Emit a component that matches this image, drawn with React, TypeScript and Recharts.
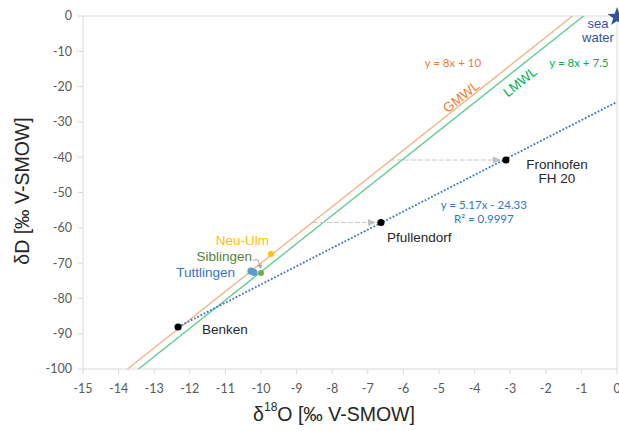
import { ComposedChart, Scatter, XAxis, YAxis, ReferenceLine, Label } from "recharts"

// axis ticks
const xTicks = [-15, -14, -13, -12, -11, -10, -9, -8, -7, -6, -5, -4, -3, -2, -1, 0]
const yTicks = [0, -10, -20, -30, -40, -50, -60, -70, -80, -90, -100]

// water lines (end points)
const gmwlX = [-13.75, -1.25]
const gmwlY = [-100, 0]
const lmwlX = [-13.44, -0.94]
const lmwlY = [-100, 0]
const fitX = [-12.33, 0]
const fitY = [-88.1, -24.33]

// deep groundwater samples
const sampleNames = ["Benken", "Pfullendorf", "Fronhofen FH 20"]
const sampleX = [-12.33, -6.63, -3.12]
const sampleY = [-88.1, -58.5, -40.8]

// shallow groundwater samples
const neuUlmX = [-9.72]
const neuUlmY = [-67.4]
const siblingenX = [-10.0]
const siblingenY = [-72.8]
const tuttlingenX = [-10.28, -10.2]
const tuttlingenY = [-72.3, -72.6]

// shift arrows: start on GMWL, end at sample
const arrowFromX = [-8.54, -6.38]
const arrowToX = [-6.63, -3.12]
const arrowY = [-58.5, -40.8]

// free text annotations
const noteText = ["y = 8x + 10", "y = 8x + 7.5", "GMWL", "LMWL", "y = 5.17x - 24.33", "R² = 0.9997"]
const noteX = [-4.61, -1.07, -4.38, -2.72, -3.74, -3.74]
const noteY = [-13.3, -13.3, -22.9, -18.7, -53.3, -57.5]

const FONT = "'Liberation Sans', Arial, sans-serif"
const CAL = "Lato, 'Open Sans', sans-serif"

const zip = (xs: number[], ys: number[]) => xs.map((x, i) => ({ x, y: ys[i] }))

const samples = sampleX.map((x, i) => ({ x, y: sampleY[i], name: sampleNames[i] }))
const notes = noteText.map((text, i) => ({ x: noteX[i], y: noteY[i], text }))
const arrows = arrowFromX.map((fx, i) => [
  { x: fx, y: arrowY[i], tip: false },
  { x: arrowToX[i], y: arrowY[i], tip: true },
])

const sampleStyle: Record<string, { dx: number; dy: number; anchor: "start" | "middle" | "end" }> = {
  Benken: { dx: 24, dy: 2, anchor: "start" },
  Pfullendorf: { dx: 6, dy: 14, anchor: "start" },
  "Fronhofen FH 20": { dx: 51, dy: 4, anchor: "middle" },
}

const noteStyle: Record<string, { color: string; size: number; font: string; angle?: number }> = {
  "y = 8x + 10": { color: "#ED7D31", size: 11.5, font: CAL },
  "y = 8x + 7.5": { color: "#00B050", size: 11.5, font: CAL },
  GMWL: { color: "#ED7D31", size: 13.5, font: FONT, angle: -38.4 },
  LMWL: { color: "#00B050", size: 13.5, font: FONT, angle: -38.4 },
  "y = 5.17x - 24.33": { color: "#2E78C8", size: 11.5, font: CAL },
  "R² = 0.9997": { color: "#2E78C8", size: 11.5, font: CAL },
}

const noShape = () => <g />

function SampleShape(p: any) {
  const st = sampleStyle[p.payload.name]
  const words = p.payload.name === "Fronhofen FH 20" ? ["Fronhofen", "FH 20"] : [p.payload.name]
  const tx = p.cx + st.dx
  return (
    <g>
      <circle cx={p.cx} cy={p.cy} r={3.6} fill="#000" />
      <text x={tx} y={p.cy + st.dy} textAnchor={st.anchor} fontSize={13.5} fontFamily={FONT} fill="#262626" dominantBaseline="central">
        {words.map((w, i) => (
          <tspan key={w} x={tx} dy={i === 0 ? 0 : 14}>
            {w}
          </tspan>
        ))}
      </text>
    </g>
  )
}

function NoteShape(p: any) {
  const st = noteStyle[p.payload.text]
  return (
    <text
      x={p.cx}
      y={p.cy}
      textAnchor="middle"
      dominantBaseline="central"
      fontSize={st.size}
      fontFamily={st.font}
      fill={st.color}
      transform={st.angle ? `rotate(${st.angle} ${p.cx} ${p.cy})` : undefined}
    >
      {p.payload.text}
    </text>
  )
}

function ArrowShape(p: any) {
  if (!p.payload.tip) return <g />
  const tipX = p.cx - 5
  return <path d={`M${tipX},${p.cy} L${tipX - 8},${p.cy - 3.5} L${tipX - 8},${p.cy + 3.5} Z`} fill="#BFBFBF" />
}

function NeuUlmShape(p: any) {
  return (
    <g>
      <circle cx={p.cx} cy={p.cy} r={3} fill="#FFC000" />
      <text x={p.cx - 2} y={p.cy - 13} textAnchor="end" dominantBaseline="central" fontSize={13.5} fontFamily={FONT} fill="#FFC000">
        Neu-Ulm
      </text>
    </g>
  )
}

function SiblingenShape(p: any) {
  return (
    <g>
      <path d={`M${p.cx - 8},${p.cy - 13} L${p.cx - 3},${p.cy - 13} L${p.cx - 1},${p.cy - 7}`} fill="none" stroke="#A6A6A6" strokeWidth={1} />
      <path d={`M${p.cx - 3.5},${p.cy - 8} L${p.cx + 1.5},${p.cy - 8.5} L${p.cx - 0.5},${p.cy - 4}Z`} fill="#A6A6A6" />
      <circle cx={p.cx} cy={p.cy} r={3} fill="#70AD47" />
      <text x={p.cx - 9} y={p.cy - 16} textAnchor="end" dominantBaseline="central" fontSize={13.5} fontFamily={FONT} fill="#548235">
        Siblingen
      </text>
    </g>
  )
}

function TuttlingenShape(p: any) {
  return (
    <g>
      <circle cx={p.cx} cy={p.cy} r={3.6} fill="#5B9BD5" />
      {p.index === 0 ? (
        <text x={p.cx - 16} y={p.cy + 1} textAnchor="end" dominantBaseline="central" fontSize={13.5} fontFamily={FONT} fill="#2E78C8">
          Tuttlingen
        </text>
      ) : null}
    </g>
  )
}

function SeaShape(p: any) {
  const r1 = 10
  const r2 = 4
  const pts = Array.from({ length: 10 }, (_, i) => {
    const a = -Math.PI / 2 + (i * Math.PI) / 5
    const r = i % 2 === 0 ? r1 : r2
    return `${p.cx + r * Math.cos(a)},${p.cy + 1 + r * Math.sin(a)}`
  }).join(" ")
  return (
    <g>
      <polygon points={pts} fill="#2F5597" />
      <text x={p.cx - 19} y={p.cy + 7.5} textAnchor="middle" dominantBaseline="central" fontSize={13} fontFamily={FONT} fill="#2F5597">
        sea
      </text>
      <text x={p.cx - 19} y={p.cy + 21} textAnchor="middle" dominantBaseline="central" fontSize={13} fontFamily={FONT} fill="#2F5597">
        water
      </text>
    </g>
  )
}

const XTitle = () => (
  <text x={334} y={414} textAnchor="middle" dominantBaseline="central" fontSize={19.5} fontFamily={FONT} fill="#262626">
    δ<tspan fontSize={12} dy={-7}>18</tspan>
    <tspan dy={7}>O [‰ V-SMOW]</tspan>
  </text>
)

const YTitle = () => (
  <text x={22} y={191} textAnchor="middle" dominantBaseline="central" fontSize={19.5} fontFamily={FONT} fill="#262626" transform="rotate(-90 22 191)">
    δD [‰ V-SMOW]
  </text>
)

const tickStyle = { fill: "#595959", fontSize: 12.5, fontFamily: CAL }

export default function App() {
  return (
    <div style={{ position: "absolute", left: 0, top: 0 }}>
      <ComposedChart width={619} height={431} margin={{ top: 16, right: 2, bottom: 0, left: 0 }}>
        <XAxis
          type="number"
          dataKey="x"
          domain={[-15, 0]}
          ticks={xTicks}
          interval={0}
          height={62}
          axisLine={{ stroke: "#D9D9D9" }}
          tickLine={{ stroke: "#D9D9D9" }}
          tickSize={5}
          tickMargin={10}
          tick={tickStyle}
        >
          <Label content={XTitle} />
        </XAxis>
        <YAxis
          type="number"
          dataKey="y"
          domain={[-100, 0]}
          ticks={yTicks}
          interval={0}
          width={83}
          axisLine={{ stroke: "#D9D9D9" }}
          tickLine={{ stroke: "#D9D9D9" }}
          tickSize={5}
          tickMargin={6}
          tick={tickStyle}
        >
          <Label content={YTitle} />
        </YAxis>
        <ReferenceLine y={0} stroke="#D9D9D9" />
        <ReferenceLine x={0} stroke="#D9D9D9" />

        <Scatter data={zip(gmwlX, gmwlY)} line={{ stroke: "#F4B183", strokeWidth: 1.3 }} shape={noShape} isAnimationActive={false} />
        <Scatter data={zip(lmwlX, lmwlY)} line={{ stroke: "#5CCB8B", strokeWidth: 1.3 }} shape={noShape} isAnimationActive={false} />
        <Scatter data={zip(fitX, fitY)} line={{ stroke: "#3A6FD0", strokeWidth: 1.8, strokeDasharray: "1.8 1.8" }} shape={noShape} isAnimationActive={false} />

        {arrows.map((a, i) => (
          <Scatter key={i} data={a} line={{ stroke: "#C8C8C8", strokeWidth: 1, strokeDasharray: "5 2" }} shape={ArrowShape} isAnimationActive={false} />
        ))}

        <Scatter data={zip(neuUlmX, neuUlmY)} shape={NeuUlmShape} isAnimationActive={false} />
        <Scatter data={zip(tuttlingenX, tuttlingenY)} shape={TuttlingenShape} isAnimationActive={false} />
        <Scatter data={zip(siblingenX, siblingenY)} shape={SiblingenShape} isAnimationActive={false} />
        <Scatter data={samples} shape={SampleShape} isAnimationActive={false} />
        <Scatter data={[{ x: 0, y: 0 }]} shape={SeaShape} isAnimationActive={false} />
        <Scatter data={notes} shape={NoteShape} isAnimationActive={false} />
      </ComposedChart>
    </div>
  )
}
